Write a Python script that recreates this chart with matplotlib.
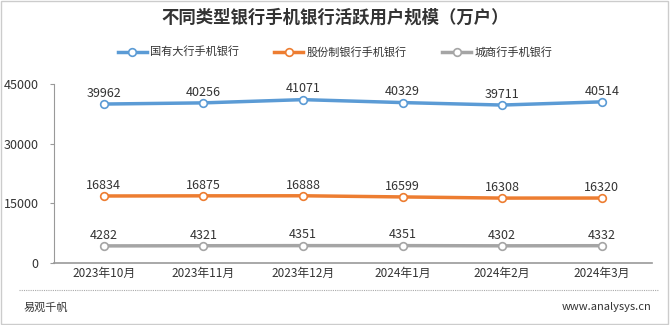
import matplotlib
matplotlib.use("Agg")
import matplotlib.pyplot as plt
from matplotlib.lines import Line2D
from matplotlib.patches import Rectangle

plt.rcParams['font.family'] = ['Noto Sans CJK SC', 'DejaVu Sans']

months = ['2023年10月', '2023年11月', '2023年12月', '2024年1月', '2024年2月', '2024年3月']
names = ['国有大行手机银行', '股份制银行手机银行', '城商行手机银行']
state_owned = [39962, 40256, 41071, 40329, 39711, 40514]
joint_stock = [16834, 16875, 16888, 16599, 16308, 16320]
city_bank = [4282, 4321, 4351, 4351, 4302, 4332]
colors = ['#5B9BD5', '#ED7D31', '#A5A5A5']

fig = plt.figure(figsize=(6.7, 3.25), dpi=100)
ax = fig.add_axes([0.0806, 0.191, 0.892, 0.5505])

x = range(len(months))
for vals, c in zip([state_owned, joint_stock, city_bank], colors):
    ax.plot(x, vals, color=c, lw=2.5, marker='o', ms=5.5, mfc='white', mec=c, mew=1.2, zorder=3)
    for i, v in enumerate(vals):
        ax.annotate(str(v), (i, v), xytext=(0, 3), textcoords='offset points',
                    ha='center', va='bottom', fontsize=9, color='#333333')

ax.set_xlim(-0.5, len(months) - 0.5)
ax.set_ylim(0, 45000)
ax.set_yticks([0, 15000, 30000, 45000])
ax.set_xticks(list(x))
ax.set_xticklabels(months)
ax.tick_params(axis='y', length=3, color='#999999', labelsize=9, labelcolor='#333333', pad=8)
ax.tick_params(axis='x', length=0, labelsize=8.5, labelcolor='#333333', pad=3)
ax.spines['top'].set_visible(False)
ax.spines['right'].set_visible(False)
ax.spines['left'].set_color('#999999')
ax.spines['bottom'].set_color('#999999')
ax.spines['bottom'].set_linewidth(1.2)

fig.text(0.5, 0.945, '不同类型银行手机银行活跃用户规模（万户）', ha='center', va='center',
         fontsize=12.5, fontweight='bold', color='#333333')

handles = [Line2D([], [], color=c, lw=2.5, marker='o', ms=5.5, mfc='white', mec=c, mew=1.2)
           for c in colors]
fig.legend(handles, names, loc='center', bbox_to_anchor=(0.5, 0.84), ncol=3, frameon=False,
           fontsize=8, handlelength=2.6, handletextpad=0.3, columnspacing=3.2,
           labelcolor='#333333')

fig.add_artist(Line2D([0.028, 0.982], [0.108, 0.108], transform=fig.transFigure,
                      color='#aaaaaa', lw=0.8, ls=(0, (1, 1))))
fig.text(0.035, 0.055, '易观千帆', ha='left', va='center', fontsize=8, color='#333333')
fig.text(0.972, 0.055, 'www.analysys.cn', ha='right', va='center', fontsize=8, color='#333333')

fig.add_artist(Rectangle((0.002, 0.003), 0.995, 0.993, transform=fig.transFigure,
                         fill=False, ec='#cccccc', lw=1))

fig.savefig('out.png', dpi=100)
